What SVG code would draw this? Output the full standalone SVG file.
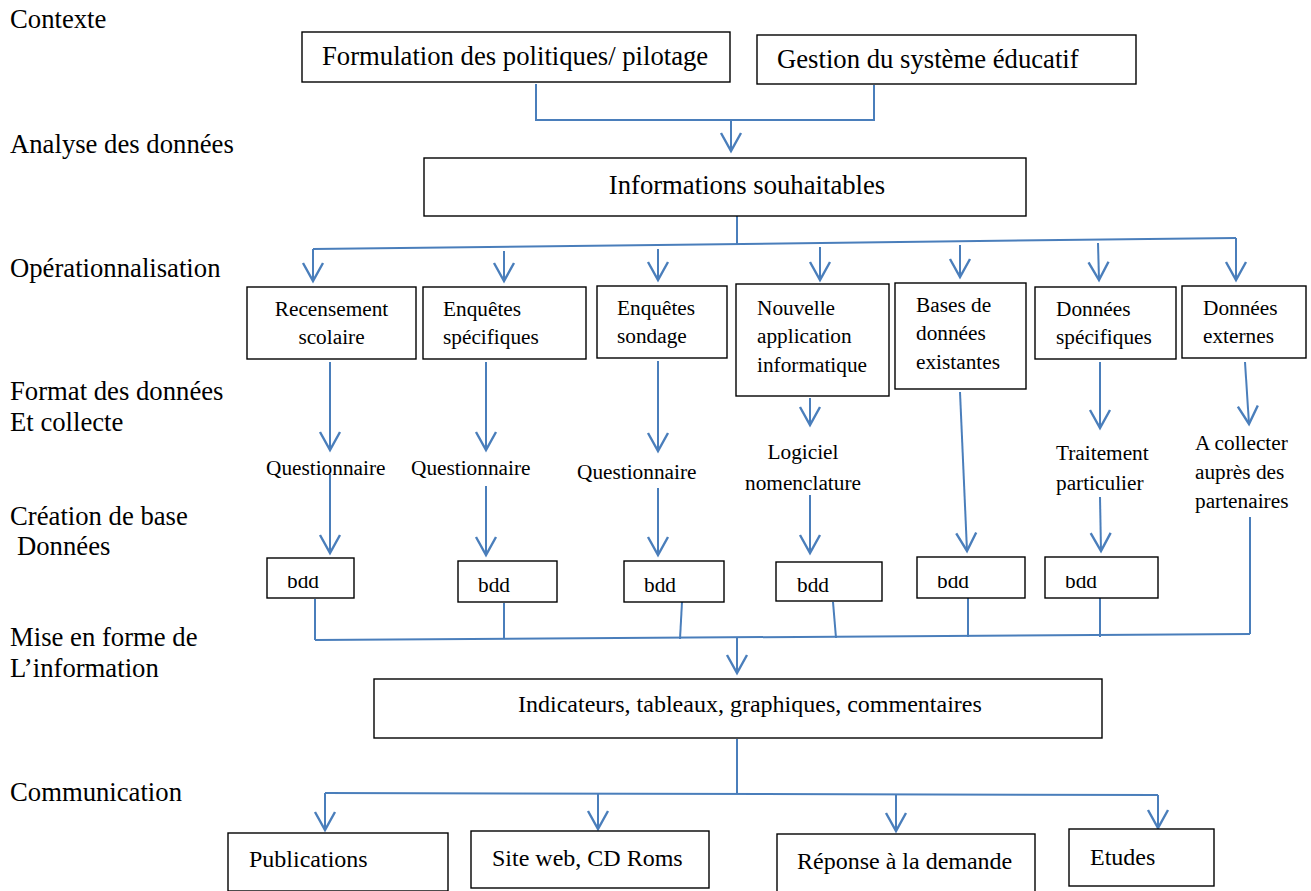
<svg xmlns="http://www.w3.org/2000/svg" width="1311" height="891" viewBox="0 0 1311 891">
<style>
text{font-family:"Liberation Serif","Times New Roman",Tinos,serif;fill:#000}
.lbl{font-size:26.7px}
.big{font-size:26.7px}
.mid{font-size:24px}
.sm{font-size:21.3px}
.box{fill:#fff;stroke:#000;stroke-width:1.4}
.c{fill:none;stroke:#4a7ebb;stroke-width:2}
.a{fill:none;stroke:#4a7ebb;stroke-width:2;marker-end:url(#arr)}
</style>
<defs>
<marker id="arr" markerUnits="userSpaceOnUse" viewBox="-20 -12 22 24" markerWidth="22" markerHeight="24" refX="0" refY="0" orient="auto" overflow="visible">
<path d="M-18,-10 L0,0 L-18,10" fill="none" stroke="#4a7ebb" stroke-width="2.4"/>
</marker>
<clipPath id="cb1"><rect x="267" y="576" width="87" height="22"/></clipPath>
<clipPath id="cb5"><rect x="917" y="576" width="108" height="22"/></clipPath>
<clipPath id="cb6"><rect x="1045" y="576" width="113" height="22"/></clipPath>
</defs>

<g id="labels">
<text class="lbl" x="10" y="28">Contexte</text>
<text class="lbl" x="10" y="153">Analyse des données</text>
<text class="lbl" x="10" y="277">Opérationnalisation</text>
<text class="lbl" x="10" y="400">Format des données</text>
<text class="lbl" x="10" y="431">Et collecte</text>
<text class="lbl" x="10" y="525">Création de base</text>
<text class="lbl" x="17" y="555">Données</text>
<text class="lbl" x="10" y="646">Mise en forme de</text>
<text class="lbl" x="10" y="677">L’information</text>
<text class="lbl" x="10" y="801">Communication</text>
</g>

<g id="connectors">
<polyline class="c" points="536,84 536,120 874,120 874,85"/>
<line class="a" x1="731" y1="120" x2="731" y2="151"/>
<line class="c" x1="737" y1="216" x2="737" y2="244"/>
<line class="c" x1="313" y1="249" x2="1236" y2="238"/>
<line class="a" x1="313" y1="249" x2="313" y2="281"/>
<line class="a" x1="504" y1="251" x2="504" y2="281"/>
<line class="a" x1="658" y1="249" x2="658" y2="280"/>
<line class="a" x1="820" y1="247" x2="820" y2="280"/>
<line class="a" x1="960" y1="245" x2="960" y2="277"/>
<line class="a" x1="1098" y1="243" x2="1099" y2="280"/>
<line class="a" x1="1236" y1="238" x2="1236" y2="280"/>

<line class="a" x1="330" y1="362" x2="330" y2="450"/>
<line class="a" x1="330" y1="474" x2="330" y2="553"/>
<line class="a" x1="486" y1="362" x2="486" y2="450"/>
<line class="a" x1="486" y1="486" x2="486" y2="555"/>
<line class="a" x1="658" y1="361" x2="658" y2="451"/>
<line class="a" x1="658" y1="488" x2="658" y2="555"/>
<line class="a" x1="810" y1="398" x2="810" y2="425"/>
<line class="a" x1="810" y1="495" x2="810" y2="553"/>
<line class="a" x1="960" y1="392" x2="967" y2="551"/>
<line class="a" x1="1100" y1="362" x2="1100" y2="428"/>
<line class="a" x1="1100" y1="497" x2="1101" y2="551"/>
<line class="a" x1="1245" y1="362" x2="1249" y2="424"/>

<line class="c" x1="315" y1="599" x2="315" y2="640"/>
<line class="c" x1="504" y1="603" x2="504" y2="638"/>
<line class="c" x1="682" y1="602" x2="680" y2="639"/>
<line class="c" x1="833" y1="602" x2="836" y2="638"/>
<line class="c" x1="968" y1="598" x2="968" y2="637"/>
<line class="c" x1="1100" y1="598" x2="1100" y2="637"/>
<line class="c" x1="1250" y1="517" x2="1250" y2="634"/>
<line class="c" x1="315" y1="640" x2="1250" y2="634"/>
<line class="a" x1="737" y1="637" x2="737" y2="673"/>

<line class="c" x1="737" y1="739" x2="737" y2="794"/>
<line class="c" x1="325" y1="793" x2="1158" y2="795"/>
<line class="a" x1="325" y1="793" x2="325" y2="830"/>
<line class="a" x1="598" y1="793" x2="598" y2="829"/>
<line class="a" x1="896" y1="794" x2="896" y2="831"/>
<line class="a" x1="1158" y1="795" x2="1158" y2="828"/>
</g>

<g id="n-formulation">
<rect class="box" x="302" y="32" width="428" height="50"/>
<text class="big" x="322" y="65">Formulation des politiques/ pilotage</text>
</g>
<g id="n-gestion">
<rect class="box" x="757" y="35" width="379" height="49"/>
<text class="big" x="777" y="68">Gestion du système éducatif</text>
</g>
<g id="n-informations">
<rect class="box" x="424" y="158" width="602" height="58"/>
<text class="big" x="747" y="194" text-anchor="middle">Informations souhaitables</text>
</g>

<g id="n-recensement">
<rect class="box" x="247" y="287" width="169" height="72"/>
<text class="sm" x="331.5" y="316" text-anchor="middle">Recensement</text>
<text class="sm" x="331.5" y="344" text-anchor="middle">scolaire</text>
</g>
<g id="n-enq-spec">
<rect class="box" x="423" y="287" width="163" height="72"/>
<text class="sm" x="443" y="316">Enquêtes</text>
<text class="sm" x="443" y="344">spécifiques</text>
</g>
<g id="n-enq-sond">
<rect class="box" x="597" y="286" width="130" height="72"/>
<text class="sm" x="617" y="315">Enquêtes</text>
<text class="sm" x="617" y="343">sondage</text>
</g>
<g id="n-nouvelle">
<rect class="box" x="736" y="284" width="153" height="112"/>
<text class="sm" x="757" y="315">Nouvelle</text>
<text class="sm" x="757" y="343">application</text>
<text class="sm" x="757" y="372">informatique</text>
</g>
<g id="n-bases">
<rect class="box" x="895" y="283" width="131" height="106"/>
<text class="sm" x="916" y="312">Bases de</text>
<text class="sm" x="916" y="340">données</text>
<text class="sm" x="916" y="369">existantes</text>
</g>
<g id="n-don-spec">
<rect class="box" x="1035" y="287" width="141" height="72"/>
<text class="sm" x="1056" y="316">Données</text>
<text class="sm" x="1056" y="344">spécifiques</text>
</g>
<g id="n-don-ext">
<rect class="box" x="1182" y="286" width="124" height="72"/>
<text class="sm" x="1203" y="315">Données</text>
<text class="sm" x="1203" y="343">externes</text>
</g>

<g id="t-q1"><text class="sm" x="266" y="475">Questionnaire</text></g>
<g id="t-q2"><text class="sm" x="411" y="475">Questionnaire</text></g>
<g id="t-q3"><text class="sm" x="577" y="479">Questionnaire</text></g>
<g id="t-logiciel">
<text class="sm" x="803" y="459" text-anchor="middle">Logiciel</text>
<text class="sm" x="803" y="490" text-anchor="middle">nomenclature</text>
</g>
<g id="t-traitement">
<text class="sm" x="1056" y="460">Traitement</text>
<text class="sm" x="1056" y="490">particulier</text>
</g>
<g id="t-collecter">
<text class="sm" x="1195" y="450">A collecter</text>
<text class="sm" x="1195" y="479">auprès des</text>
<text class="sm" x="1195" y="508">partenaires</text>
</g>

<g id="n-bdd1">
<rect class="box" x="267" y="558" width="87" height="40"/>
<text class="sm" x="287" y="588" clip-path="url(#cb1)">bdd</text>
</g>
<g id="n-bdd2">
<rect class="box" x="458" y="561" width="99" height="41"/>
<text class="sm" x="478" y="592">bdd</text>
</g>
<g id="n-bdd3">
<rect class="box" x="624" y="561" width="100" height="41"/>
<text class="sm" x="644" y="592">bdd</text>
</g>
<g id="n-bdd4">
<rect class="box" x="776" y="562" width="106" height="39"/>
<text class="sm" x="797" y="592">bdd</text>
</g>
<g id="n-bdd5">
<rect class="box" x="917" y="557" width="108" height="41"/>
<text class="sm" x="937" y="588" clip-path="url(#cb5)">bdd</text>
</g>
<g id="n-bdd6">
<rect class="box" x="1045" y="557" width="113" height="41"/>
<text class="sm" x="1065" y="588" clip-path="url(#cb6)">bdd</text>
</g>

<g id="n-indicateurs">
<rect class="box" x="374" y="679" width="728" height="59"/>
<text class="mid" x="518" y="712">Indicateurs, tableaux, graphiques, commentaires</text>
</g>

<g id="n-publications">
<rect class="box" x="228" y="833" width="220" height="58"/>
<text class="mid" x="249" y="867">Publications</text>
</g>
<g id="n-siteweb">
<rect class="box" x="471" y="831" width="238" height="57"/>
<text class="mid" x="492" y="866">Site web, CD Roms</text>
</g>
<g id="n-reponse">
<rect class="box" x="777" y="834" width="258" height="58"/>
<text class="mid" x="797" y="869">Réponse à la demande</text>
</g>
<g id="n-etudes">
<rect class="box" x="1069" y="829" width="145" height="57"/>
<text class="mid" x="1090" y="865">Etudes</text>
</g>
</svg>
